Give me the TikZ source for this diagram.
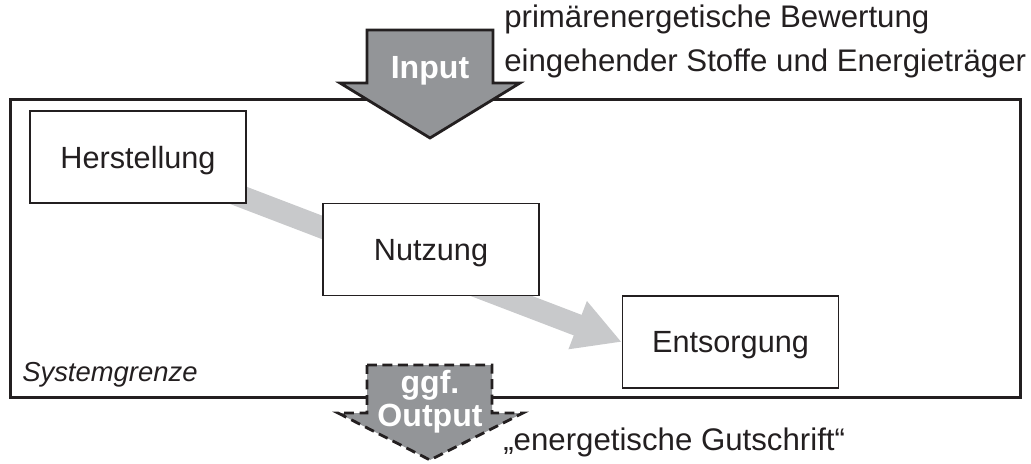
\documentclass[tikz,border=0pt]{standalone}
\usepackage{fontspec}
\setmainfont{Liberation Sans}
\usetikzlibrary{arrows.meta,backgrounds,positioning}
\definecolor{inkC}{HTML}{231F20}
\definecolor{flowF}{HTML}{939598}
\definecolor{lifeC}{HTML}{C8C9CB}
\tikzset{
  phase/.style={draw=inkC, line width=1pt, fill=white, text=inkC, minimum width=5.4cm, minimum height=2.3cm,
                inner sep=0pt, text depth=0pt, font=\fontsize{21.8}{26}\selectfont},
  bound/.style={draw=inkC, line width=2.1pt, minimum width=25.225cm, minimum height=7.425cm, inner sep=0pt},
  flow/.style={fill=flowF, draw=inkC, line width=2pt, line join=miter},
  flowlab/.style={text=white, font=\fontsize{22.8}{26}\selectfont\bfseries, inner sep=0pt, anchor=base},
  note/.style={text=inkC, font=\fontsize{22.2}{26}\selectfont, inner sep=0pt, anchor=base west},
  life/.style={draw=lifeC, line width=0.55cm, -{Triangle[length=1.18cm,width=1.2cm]}},
}

\begin{document}
\begin{tikzpicture}[x=0.025cm, y=-0.025cm]
\useasboundingbox (0,0) rectangle (1031,464);
\node[bound] (sys) at (515.5,248.5) {};
\node[phase] (H) at (138,157) {Herstellung};
\node[phase] (N) at (431,249.5) {Nutzung};
\node[phase] (E) at (730.5,342) {Entsorgung};
\node[note, font=\fontsize{19.5}{24}\selectfont\itshape] (sg) at (22,381) {Systemgrenze};
\begin{scope}[on background layer]
\draw[life] (H.center) -- (E.west);
\end{scope}
% input
\draw[flow] (367,30) -- (493,30) -- (493,83) -- (520,83) -- (430,138) -- (340,83) -- (367,83) -- cycle;
\node[flowlab] (in) at (430,79) {Input};
\node[note] (t1) at (504,28) {primärenergetische Bewertung};
\node[note] (t2) at (504,72) {eingehender Stoffe und Energieträger};
% output
\draw[flow, dash pattern=on 7pt off 4pt] (367,365) -- (492,365) -- (492,413) -- (523,413) -- (430,460) -- (338,413) -- (367,413) -- cycle;
\node[flowlab] (gg) at (430,393) {ggf.};
\node[flowlab] (out) at (430,426) {Output};
\node[note] (t3) at (503,450) {„energetische Gutschrift“};
\end{tikzpicture}
\end{document}
